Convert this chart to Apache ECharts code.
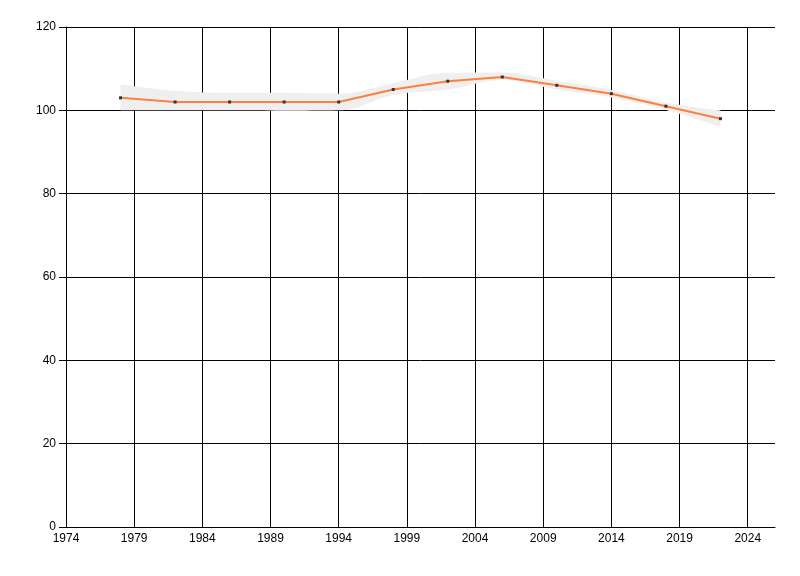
<!DOCTYPE html>
<html>
<head>
<meta charset="utf-8">
<script src="https://cdn.jsdelivr.net/npm/echarts@6/dist/echarts.min.js"></script>
<style>html,body{margin:0;padding:0;background:#fff}#c{width:800px;height:576px}</style>
</head>
<body>
<div id="c"></div>
<script>
const years = [1978,1982,1986,1990,1994,1998,2002,2006,2010,2014,2018,2022];
const values = [103,102,102,102,102,105,107,108,106,104,101,98];
const upper = [106.2,104.7,104.2,104.2,104.0,106.5,109.0,109.1,107.1,104.9,101.9,100.0];
const lower = [100.0,100.0,100.0,99.9,100.0,103.7,105.0,107.3,105.0,103.1,100.1,96.1];
const xTicks = [1974,1979,1984,1989,1994,1999,2004,2009,2014,2019,2024];

const font = {fontFamily: 'Liberation Sans', fontSize: 12, color: '#000'};
const chart = echarts.init(document.getElementById('c'), null, {renderer: 'canvas'});
chart.setOption({
  animation: false,
  grid: {left: 66, right: 25, top: 27, bottom: 49, containLabel: false},
  xAxis: {
    type: 'value', min: 1974, max: 2026,
    axisLine: {show: true, onZero: false, lineStyle: {color: '#000', width: 1}},
    axisTick: {show: false, customValues: xTicks},
    axisLabel: Object.assign({customValues: xTicks, margin: 6, formatter: v => String(v)}, font),
    splitLine: {show: true, lineStyle: {color: '#000', width: 1}}
  },
  yAxis: {
    type: 'value', min: 0, max: 120, interval: 20,
    axisLine: {show: true, lineStyle: {color: '#000', width: 1}},
    axisTick: {show: true, inside: false, length: 7, lineStyle: {color: '#000'}},
    axisLabel: Object.assign({margin: 10}, font),
    splitLine: {show: true, lineStyle: {color: '#000', width: 1}}
  },
  series: [
    {
      type: 'line', stack: 'band', smooth: 0.4, symbol: 'none', z: 2,
      encode: {x: 1, y: 0},
      data: years.map((y, i) => [lower[i], y]),
      lineStyle: {opacity: 0}, silent: true
    },
    {
      type: 'line', stack: 'band', smooth: 0.4, symbol: 'none', z: 2,
      encode: {x: 1, y: 0},
      data: years.map((y, i) => [+(upper[i] - lower[i]).toFixed(2), y]),
      lineStyle: {opacity: 0},
      areaStyle: {color: '#efefef', opacity: 1}, silent: true
    },
    {
      type: 'line', z: 3,
      data: years.map((y, i) => [y, values[i]]),
      lineStyle: {color: '#ff7f3f', width: 2},
      symbol: 'rect', symbolSize: 3, showSymbol: true,
      itemStyle: {color: '#333'}
    }
  ]
});
</script>
</body>
</html>
